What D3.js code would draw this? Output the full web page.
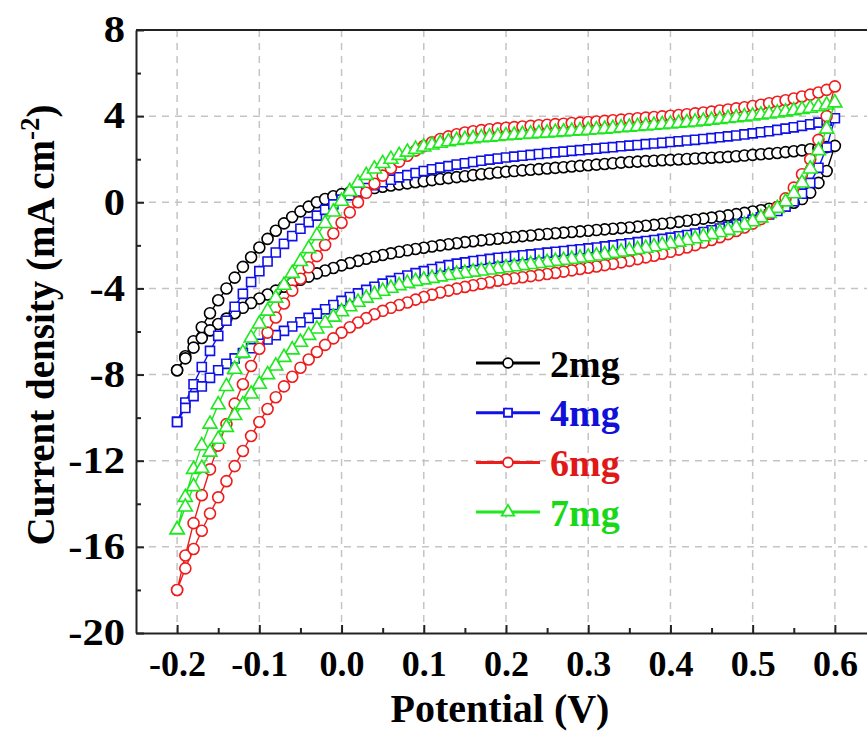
<!DOCTYPE html>
<html>
<head>
<meta charset="utf-8">
<script src="https://cdn.jsdelivr.net/npm/d3@7"></script>
<style>
body { margin: 0; background: #fff; }
svg text { font-family: "Liberation Serif", "Times New Roman", serif; font-weight: bold; }
</style>
</head>
<body>
<svg id="chart" width="867" height="749"></svg>
<script>
// potential steps of the sweep (V)
const potential = [
  -0.20,-0.19,-0.18,-0.17,-0.16,-0.15,-0.14,-0.13,-0.12,-0.11,
  -0.10,-0.09,-0.08,-0.07,-0.06,-0.05,-0.04,-0.03,-0.02,-0.01,
   0.00, 0.01, 0.02, 0.03, 0.04, 0.05, 0.06, 0.07, 0.08, 0.09,
   0.10, 0.11, 0.12, 0.13, 0.14, 0.15, 0.16, 0.17, 0.18, 0.19,
   0.20, 0.21, 0.22, 0.23, 0.24, 0.25, 0.26, 0.27, 0.28, 0.29,
   0.30, 0.31, 0.32, 0.33, 0.34, 0.35, 0.36, 0.37, 0.38, 0.39,
   0.40, 0.41, 0.42, 0.43, 0.44, 0.45, 0.46, 0.47, 0.48, 0.49,
   0.50, 0.51, 0.52, 0.53, 0.54, 0.55, 0.56, 0.57, 0.58, 0.59,
   0.60];

// current density, anodic (forward) and cathodic (reverse) branch, same potential order
const fwd2mg = [
  -7.8,-7.15,-6.45,-5.8,-5.15,-4.55,-4.0,-3.5,-3.0,-2.55,
  -2.1,-1.7,-1.32,-0.98,-0.68,-0.42,-0.2,0.0,0.15,0.28,
  0.38,0.46,0.53,0.6,0.66,0.72,0.78,0.83,0.88,0.93,
  0.98,1.03,1.08,1.12,1.17,1.21,1.26,1.3,1.34,1.38,
  1.42,1.45,1.48,1.51,1.54,1.57,1.6,1.63,1.66,1.69,
  1.72,1.75,1.78,1.81,1.84,1.87,1.89,1.91,1.93,1.95,
  1.97,1.99,2.01,2.03,2.05,2.07,2.09,2.11,2.14,2.17,
  2.2,2.23,2.26,2.29,2.33,2.37,2.41,2.46,2.51,2.56,
  2.62];
const rev2mg = [
  -7.8,-7.25,-6.75,-6.3,-5.95,-5.65,-5.4,-5.15,-4.9,-4.68,
  -4.47,-4.28,-4.1,-3.92,-3.75,-3.6,-3.45,-3.3,-3.17,-3.05,
  -2.93,-2.82,-2.72,-2.62,-2.53,-2.45,-2.37,-2.3,-2.23,-2.17,
  -2.11,-2.05,-2.0,-1.95,-1.9,-1.85,-1.81,-1.77,-1.73,-1.69,
  -1.65,-1.61,-1.57,-1.54,-1.5,-1.47,-1.44,-1.41,-1.38,-1.35,
  -1.32,-1.29,-1.26,-1.23,-1.2,-1.17,-1.13,-1.09,-1.05,-1.0,
  -0.96,-0.91,-0.86,-0.81,-0.76,-0.71,-0.66,-0.61,-0.55,-0.49,
  -0.43,-0.37,-0.3,-0.22,-0.13,-0.02,0.15,0.45,0.9,1.45,
  2.62];
const fwd4mg = [
  -10.2,-9.3,-8.45,-7.65,-6.9,-6.2,-5.5,-4.85,-4.25,-3.7,
  -3.2,-2.75,-2.33,-1.93,-1.57,-1.23,-0.92,-0.62,-0.35,-0.1,
  0.12,0.32,0.5,0.66,0.8,0.93,1.05,1.16,1.26,1.36,
  1.45,1.53,1.61,1.68,1.75,1.81,1.87,1.93,1.98,2.03,
  2.08,2.12,2.16,2.2,2.24,2.28,2.32,2.35,2.39,2.42,
  2.46,2.49,2.53,2.56,2.6,2.63,2.66,2.7,2.73,2.76,
  2.8,2.83,2.87,2.9,2.94,2.98,3.02,3.06,3.1,3.15,
  3.2,3.25,3.3,3.36,3.42,3.48,3.55,3.62,3.7,3.79,
  3.9];
const rev4mg = [
  -10.2,-9.55,-9.0,-8.55,-8.15,-7.8,-7.5,-7.25,-7.0,-6.78,
  -6.57,-6.37,-6.17,-5.97,-5.77,-5.57,-5.37,-5.17,-4.97,-4.77,
  -4.58,-4.4,-4.23,-4.07,-3.92,-3.78,-3.65,-3.52,-3.4,-3.29,
  -3.2,-3.1,-3.0,-2.92,-2.85,-2.79,-2.73,-2.68,-2.63,-2.58,
  -2.54,-2.5,-2.46,-2.42,-2.38,-2.34,-2.3,-2.26,-2.22,-2.18,
  -2.14,-2.1,-2.05,-2.0,-1.95,-1.9,-1.85,-1.8,-1.75,-1.7,
  -1.64,-1.58,-1.52,-1.45,-1.38,-1.3,-1.22,-1.13,-1.03,-0.93,
  -0.82,-0.7,-0.56,-0.4,-0.2,0.05,0.4,0.9,1.6,2.55,
  3.9];
const fwd6mg = [
  -18.0,-16.4,-14.9,-13.6,-12.4,-11.3,-10.3,-9.35,-8.45,-7.6,
  -6.8,-6.05,-5.35,-4.7,-4.1,-3.55,-3.02,-2.5,-1.98,-1.45,
  -0.95,-0.47,0.0,0.44,0.86,1.24,1.58,1.89,2.16,2.4,
  2.61,2.79,2.94,3.06,3.16,3.24,3.3,3.35,3.39,3.43,
  3.46,3.49,3.52,3.55,3.58,3.6,3.63,3.65,3.68,3.7,
  3.73,3.75,3.78,3.81,3.84,3.87,3.9,3.93,3.96,3.99,
  4.02,4.05,4.09,4.13,4.17,4.21,4.26,4.31,4.36,4.41,
  4.47,4.53,4.6,4.67,4.74,4.82,4.91,5.0,5.1,5.22,
  5.38];
const rev6mg = [
  -18.0,-17.0,-16.1,-15.25,-14.45,-13.7,-12.95,-12.25,-11.55,-10.85,
  -10.2,-9.6,-9.05,-8.55,-8.1,-7.68,-7.3,-6.95,-6.62,-6.32,
  -6.05,-5.8,-5.58,-5.38,-5.2,-5.04,-4.9,-4.77,-4.65,-4.52,
  -4.4,-4.29,-4.19,-4.1,-4.01,-3.93,-3.85,-3.78,-3.71,-3.64,
  -3.58,-3.53,-3.48,-3.43,-3.38,-3.33,-3.28,-3.22,-3.16,-3.1,
  -3.04,-2.98,-2.92,-2.86,-2.79,-2.72,-2.64,-2.56,-2.48,-2.39,
  -2.3,-2.2,-2.1,-1.99,-1.87,-1.75,-1.62,-1.48,-1.33,-1.17,
  -0.99,-0.78,-0.53,-0.22,0.18,0.68,1.3,2.0,2.9,4.0,
  5.38];
const fwd7mg = [
  -15.2,-13.7,-12.4,-11.3,-10.3,-9.4,-8.55,-7.75,-7.0,-6.3,
  -5.65,-5.05,-4.45,-3.85,-3.3,-2.75,-2.15,-1.55,-0.98,-0.45,
  0.05,0.5,0.9,1.25,1.55,1.8,2.0,2.18,2.33,2.46,
  2.57,2.66,2.74,2.81,2.87,2.92,2.96,3.0,3.03,3.06,
  3.09,3.12,3.15,3.17,3.2,3.22,3.25,3.27,3.3,3.32,
  3.35,3.37,3.4,3.43,3.46,3.49,3.52,3.55,3.58,3.61,
  3.64,3.67,3.7,3.73,3.77,3.81,3.85,3.89,3.93,3.97,
  4.01,4.06,4.1,4.15,4.2,4.25,4.31,4.37,4.44,4.52,
  4.62];
const rev7mg = [
  -15.2,-14.15,-13.2,-12.35,-11.6,-11.0,-10.45,-9.9,-9.4,-8.9,
  -8.45,-8.0,-7.6,-7.2,-6.85,-6.5,-6.18,-5.88,-5.6,-5.33,
  -5.08,-4.85,-4.64,-4.45,-4.28,-4.13,-3.99,-3.87,-3.76,-3.67,
  -3.6,-3.53,-3.46,-3.4,-3.34,-3.29,-3.24,-3.19,-3.14,-3.09,
  -3.04,-2.99,-2.94,-2.89,-2.84,-2.79,-2.74,-2.69,-2.64,-2.59,
  -2.54,-2.49,-2.43,-2.37,-2.31,-2.25,-2.19,-2.13,-2.06,-1.99,
  -1.92,-1.85,-1.77,-1.69,-1.6,-1.5,-1.4,-1.3,-1.18,-1.05,
  -0.9,-0.72,-0.52,-0.28,0.02,0.4,0.9,1.55,2.4,3.4,
  4.62];

const seriesNames = ["2mg", "4mg", "6mg", "7mg"];
const xTicks = [-0.2, -0.1, 0.0, 0.1, 0.2, 0.3, 0.4, 0.5, 0.6];
const xMinor = [-0.15, -0.05, 0.05, 0.15, 0.25, 0.35, 0.45, 0.55];
const yTicks = [-20, -16, -12, -8, -4, 0, 4, 8];
const yMinor = [-18, -14, -10, -6, -2, 2, 6];

const colors = ["#000000", "#1010e8", "#ee1c1c", "#1ee81e"];
const textColors = ["#000000", "#1010d8", "#e01818", "#18d818"];
const symbols = [d3.symbolCircle, d3.symbolSquare, d3.symbolCircle, d3.symbolTriangle];
const symSize = [95, 82, 95, 85];

const branches = [[fwd2mg, rev2mg], [fwd4mg, rev4mg], [fwd6mg, rev6mg], [fwd7mg, rev7mg]];

var svg = d3.select("#chart");
var plotL = 136, plotR = 876, plotT = 30, plotB = 633;

var x = d3.scaleLinear().domain([-0.25, 0.65]).range([plotL, plotR]);
var y = d3.scaleLinear().domain([-20, 8]).range([plotB, plotT]);

// dashed grid
var grid = svg.append("g").attr("stroke", "#c4c4c4").attr("stroke-width", 1.5)
    .attr("stroke-dasharray", "7,6");
grid.selectAll(".gx").data(xTicks).enter().append("line")
    .attr("x1", d => x(d)).attr("x2", d => x(d)).attr("y1", plotT).attr("y2", plotB);
grid.selectAll(".gy").data(yTicks.filter(d => d > -20 && d < 8)).enter().append("line")
    .attr("y1", d => y(d)).attr("y2", d => y(d)).attr("x1", plotL).attr("x2", plotR);

// curves
var line = d3.line().x(d => x(d[0])).y(d => y(d[1]));
branches.forEach(function (b, i) {
    var pts = potential.map((v, k) => [v, b[0][k]]);
    var back = potential.map((v, k) => [v, b[1][k]]).reverse();
    pts = pts.concat(back.slice(1));
    var g = svg.append("g");
    g.append("path").attr("d", line(pts)).attr("fill", "none")
        .attr("stroke", colors[i]).attr("stroke-width", 1.4);
    g.selectAll("path.m").data(pts).enter().append("path")
        .attr("class", "m")
        .attr("d", d3.symbol().type(symbols[i]).size(symSize[i]))
        .attr("transform", d => "translate(" + x(d[0]) + "," + y(d[1]) + ")")
        .attr("fill", "#fff").attr("stroke", colors[i]).attr("stroke-width", 1.6);
});

// axes
var xAxis = svg.append("g").attr("transform", "translate(0," + plotB + ")")
    .call(d3.axisBottom(x).tickValues(xTicks).tickSize(-8).tickSizeOuter(0)
        .tickPadding(17).tickFormat(d => d.toFixed(1)));
svg.append("g").attr("transform", "translate(0," + plotB + ")")
    .call(d3.axisBottom(x).tickValues(xMinor).tickSize(-5).tickSizeOuter(0).tickFormat(""))
    .select(".domain").remove();
var yAxis = svg.append("g").attr("transform", "translate(" + plotL + ",0)")
    .call(d3.axisLeft(y).tickValues(yTicks).tickSize(-8).tickSizeOuter(0)
        .tickPadding(11).tickFormat(d => String(d)));
svg.append("g").attr("transform", "translate(" + plotL + ",0)")
    .call(d3.axisLeft(y).tickValues(yMinor).tickSize(-5).tickSizeOuter(0).tickFormat(""))
    .select(".domain").remove();

svg.selectAll(".domain").attr("stroke", "#222").attr("stroke-width", 2);
svg.selectAll(".tick line").attr("stroke", "#222").attr("stroke-width", 2);
xAxis.selectAll("text").attr("font-size", 36).attr("fill", "#000").attr("font-family", null);
yAxis.selectAll("text").attr("font-size", 37).attr("fill", "#000").attr("font-family", null)
    .attr("transform", "scale(1.15,1)").attr("x", -11 / 1.15);

svg.append("line").attr("x1", plotL).attr("x2", plotR).attr("y1", plotT).attr("y2", plotT)
    .attr("stroke", "#222").attr("stroke-width", 2);

// axis titles
svg.append("text").attr("x", 500).attr("y", 722).attr("text-anchor", "middle")
    .attr("font-size", 40).text("Potential (V)");
var yl = svg.append("text").attr("transform", "translate(54," + 325 + ") rotate(-90)")
    .attr("text-anchor", "middle").attr("font-size", 39);
yl.append("tspan").text("Current density (mA cm");
yl.append("tspan").attr("font-size", 27).attr("dy", -15).text("-2");
yl.append("tspan").attr("dy", 15).text(")");

// legend
var legend = svg.append("g");
seriesNames.forEach(function (name, i) {
    var ly = 363 + i * 49.7;
    legend.append("line").attr("x1", 476).attr("x2", 540).attr("y1", ly).attr("y2", ly)
        .attr("stroke", colors[i]).attr("stroke-width", 3);
    legend.append("path").attr("d", d3.symbol().type(symbols[i]).size(symSize[i] * 0.8))
        .attr("transform", "translate(508," + ly + ")")
        .attr("fill", "#fff").attr("stroke", colors[i]).attr("stroke-width", 1.8);
    legend.append("text").attr("x", 550).attr("y", ly).attr("dy", "0.36em")
        .attr("font-size", 38).attr("fill", textColors[i]).text(name);
});
</script>
</body>
</html>
